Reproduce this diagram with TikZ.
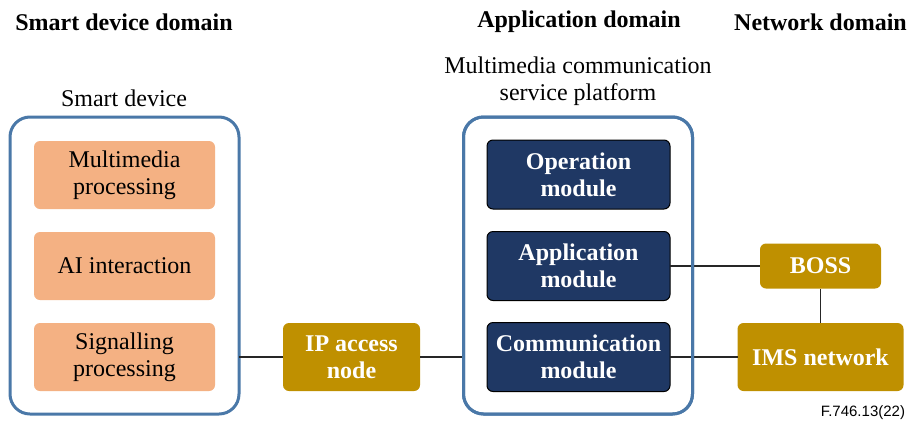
\documentclass[tikz,border=0pt]{standalone}
\usepackage{fontspec}
\setmainfont{Liberation Serif}
\newfontfamily\figsans{Liberation Sans}
\definecolor{frameblue}{HTML}{4A78A8}
\definecolor{peach}{HTML}{F4B183}
\definecolor{navy}{HTML}{1F3864}
\definecolor{gold}{HTML}{BF9000}
\definecolor{wire}{HTML}{262626}
\begin{document}
\begin{tikzpicture}[x=1pt,y=-1pt,
  every node/.style={inner sep=0pt,outer sep=0pt,align=center,font=\fontsize{24}{27}\selectfont},
  frame/.style={draw=frameblue,line width=3pt,rounded corners=20pt,fill=white},
  frameline/.style={draw=frameblue,line width=3pt,rounded corners=20pt},
  peachbox/.style={fill=peach,rounded corners=6pt,minimum width=181pt,minimum height=68pt},
  navybox/.style={fill=navy,draw=black,line width=1pt,rounded corners=6pt,minimum width=183pt,minimum height=69pt,text=white,font=\fontsize{24}{27}\selectfont\bfseries},
  goldbox/.style={fill=gold,rounded corners=6pt,text=white,font=\fontsize{24}{27}\selectfont\bfseries},
  heading/.style={font=\fontsize{24}{27}\selectfont\bfseries},
  wireline/.style={draw=wire,line width=1.5pt}
]
\useasboundingbox (0,0) rectangle (909,421);

\node[heading] (h1) at (124,22) {Smart device domain};
\node[heading] (h2) at (579,22) {Application domain};
\node[heading] (h3) at (820.5,22) {Network domain};

\node (lsd) at (124,98) {Smart device};
\node (lmc) at (578,81) {Multimedia communication\\service platform};

\node[frame,minimum width=229pt,minimum height=297pt] (sd) at (124.5,265.5) {};
\node[frame,minimum width=229pt,minimum height=297pt] (ap) at (578,265.5) {};

\node[peachbox] (mp) at (124.5,175) {Multimedia\\processing};
\node[peachbox] (ai) at (124.5,266) {AI interaction};
\node[peachbox] (sp) at (124.5,357) {Signalling\\processing};

\node[navybox] (om) at (578.5,174.5) {Operation\\module};
\node[navybox] (am) at (578.5,266) {Application\\module};
\node[navybox] (cm) at (578.5,357) {Communication\\module};

\node[goldbox,minimum width=137pt,minimum height=68pt] (ip) at (351.5,357) {IP access\\node};
\node[goldbox,minimum width=121pt,minimum height=45pt] (boss) at (820.5,266) {BOSS};
\node[goldbox,minimum width=166pt,minimum height=68pt] (ims) at (820.5,357) {IMS network};

\draw[wireline] (sd.east |- ip) -- (ip.west);
\draw[wireline] (ip.east) -- (ap.west |- ip);
\draw[wireline] (am.east) -- (boss.west);
\draw[wireline] (cm.east) -- (ims.west);
\draw[wireline] (boss.south) -- (ims.north);

\node[frameline,minimum width=229pt,minimum height=297pt] (apline) at (ap.center) {};

\node[font=\figsans\fontsize{15}{17}\selectfont,anchor=south east] (fig) at (905,420) {F.746.13(22)};
\end{tikzpicture}
\end{document}
